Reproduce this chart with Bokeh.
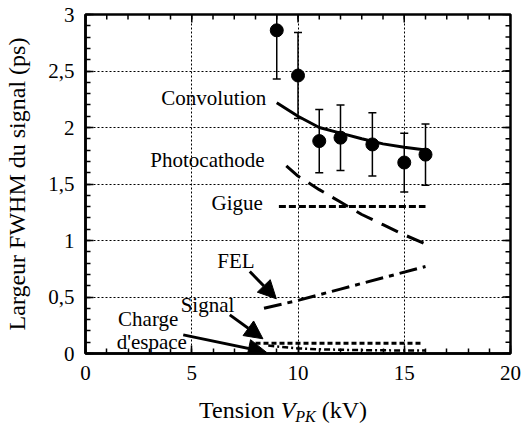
from bokeh.plotting import figure
from bokeh.models import Label, Arrow, NormalHead, SingleIntervalTicker, Range1d, Div
from bokeh.layouts import column
from bokeh.embed import file_html
from bokeh.resources import INLINE
import numpy as np

FONT = "Liberation Serif"

# measured points with error bars
meas_x = [9, 10, 11, 12, 13.5, 15, 16]
meas_y = [2.86, 2.46, 1.88, 1.91, 1.85, 1.69, 1.76]
meas_err = [0.43, 0.38, 0.28, 0.29, 0.28, 0.26, 0.27]

conv_x = [9, 10, 11, 12, 13, 14, 15, 16]
conv_y = [2.22, 2.10, 2.00, 1.95, 1.90, 1.855, 1.825, 1.80]

photo_x = [9.45, 10, 11, 12, 13, 14, 15, 16]
photo_y = [1.66, 1.57, 1.45, 1.34, 1.23, 1.14, 1.05, 0.97]

gigue_x = [9.1, 16]
gigue_y = [1.30, 1.30]

fel_x = [8.4, 10, 12, 14, 16]
fel_y = [0.40, 0.47, 0.57, 0.67, 0.77]

signal_x = [8.0, 15.8]
signal_y = [0.09, 0.09]

charge_x = [8.6, 9, 10, 11, 12, 13, 14, 15, 16]
charge_y = [0.07, 0.062, 0.045, 0.037, 0.033, 0.030, 0.028, 0.027, 0.026]

x_ticks = [0, 5, 10, 15, 20]
y_ticks = [0, 0.5, 1, 1.5, 2, 2.5, 3]
y_tick_labels = ["0", "0,5", "1", "1,5", "2", "2,5", "3"]

p = figure(width=521, height=399, x_range=Range1d(0, 20), y_range=Range1d(0, 3),
           output_backend="svg", toolbar_location=None,
           min_border_left=85, min_border_right=11, min_border_top=14, min_border_bottom=46)
p.background_fill_color = "white"
p.border_fill_color = "white"
p.outline_line_color = "black"
p.outline_line_width = 2.5

def style_axis(ax):
    ax.major_tick_in = 8
    ax.major_tick_out = 0
    ax.minor_tick_in = 5
    ax.minor_tick_out = 0
    ax.major_tick_line_color = "black"
    ax.minor_tick_line_color = "black"
    ax.major_tick_line_width = 1.5
    ax.minor_tick_line_width = 1.5
    ax.axis_line_color = "black"
    ax.axis_line_width = 2.5
    ax.major_label_text_font = FONT
    ax.major_label_text_font_size = "21px"
    ax.major_label_text_color = "black"

p.xaxis.ticker = SingleIntervalTicker(interval=5, num_minor_ticks=5)
p.yaxis.ticker = SingleIntervalTicker(interval=0.5, num_minor_ticks=5)
style_axis(p.xaxis[0])
style_axis(p.yaxis[0])
p.xaxis.major_label_standoff = 12
p.yaxis.major_label_standoff = 11
p.yaxis.major_label_overrides = {float(t): l for t, l in zip(y_ticks, y_tick_labels)}
p.yaxis.axis_label = "Largeur FWHM du signal (ps)"
p.yaxis.axis_label_text_font = FONT
p.yaxis.axis_label_text_font_size = "24px"
p.yaxis.axis_label_text_font_style = "normal"
p.yaxis.axis_label_text_color = "black"
p.yaxis.axis_label_standoff = 15

# mirrored inward ticks on top and right (outer half of each dash is clipped by the frame)
x_minor = np.arange(0, 21, 1)
y_minor = np.arange(0, 3.01, 0.1)
p.scatter(x_minor, np.full(len(x_minor), 3.0), marker="dash", angle=np.pi / 2, size=10,
          line_color="black", line_width=1.5)
p.scatter(x_ticks, [3.0] * len(x_ticks), marker="dash", angle=np.pi / 2, size=16,
          line_color="black", line_width=1.5)
p.scatter(np.full(len(y_minor), 20.0), y_minor, marker="dash", size=10,
          line_color="black", line_width=1.5)
p.scatter([20.0] * len(y_ticks), y_ticks, marker="dash", size=16,
          line_color="black", line_width=1.5)

for g in (p.xgrid[0], p.ygrid[0]):
    g.grid_line_color = "black"
    g.grid_line_dash = "2 2"
    g.grid_line_width = 1

# curves
p.line(conv_x, conv_y, line_color="black", line_width=3)
p.line(photo_x, photo_y, line_color="black", line_width=3, line_dash="18 10")
p.line(gigue_x, gigue_y, line_color="black", line_width=3, line_dash="7 3")
p.line(fel_x, fel_y, line_color="black", line_width=3, line_dash="18 6 5 6")
p.line(signal_x, signal_y, line_color="black", line_width=3, line_dash="5 3")
p.line(charge_x, charge_y, line_color="black", line_width=2.5, line_dash="6 3 2 3")

# error bars
lo = [y - e for y, e in zip(meas_y, meas_err)]
hi = [y + e for y, e in zip(meas_y, meas_err)]
p.segment(meas_x, lo, meas_x, hi, line_color="black", line_width=1.5)
p.scatter(meas_x, lo, marker="dash", size=8, line_color="black", line_width=1.5)
p.scatter(meas_x, hi, marker="dash", size=8, line_color="black", line_width=1.5)
p.scatter(meas_x, meas_y, size=13, color="black")

def lab(x, y, t, align="center"):
    p.add_layout(Label(x=x, y=y, text=t, text_font=FONT, text_font_size="21px",
                       text_align=align, text_baseline="middle", text_color="black"))

lab(8.51, 2.265, "Convolution", "right")
lab(8.43, 1.711, "Photocathode", "right")
lab(8.35, 1.336, "Gigue", "right")
lab(7.96, 0.82, "FEL", "right")
lab(5.74, 0.431, "Signal")
lab(2.95, 0.307, "Charge")
lab(3.12, 0.10, "d'espace")

def arrow(x0, y0, x1, y1):
    p.add_layout(Arrow(end=NormalHead(size=18, fill_color="black", line_color="black"),
                       x_start=x0, y_start=y0, x_end=x1, y_end=y1,
                       line_color="black", line_width=3))

arrow(7.73, 0.726, 8.98, 0.484)
arrow(6.79, 0.342, 8.35, 0.13)
arrow(4.60, 0.165, 8.51, 0.012)

# x axis title (italic V with subscript PK) as real HTML text below the figure
xlabel_html = (
    '<div style="font-family:\'Liberation Serif\'; font-size:24px; line-height:22px; '
    'color:black; white-space:nowrap; padding-left:199px;">'
    'Tension <span style="font-style:italic">V</span>'
    '<span style="font-style:italic; font-size:16px; line-height:16px; '
    'position:relative; top:4px;">PK</span>'
    ' (kV)</div>'
)
xlabel = Div(text=xlabel_html, width=521, height=29, margin=0)

layout = column(p, xlabel, spacing=0)
open("out.html", "w").write(file_html(layout, INLINE))
